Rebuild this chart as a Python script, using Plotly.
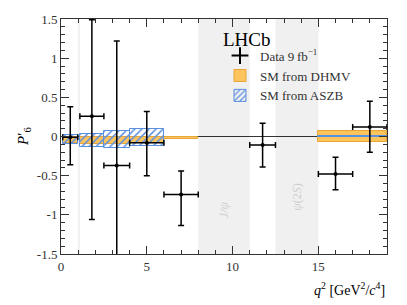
import plotly.graph_objects as go

# Data points
q2_centers = [0.54, 1.8, 3.25, 5.0, 7.0, 11.75, 16.0, 18.0]
q2_halfw = [0.44, 0.7, 0.75, 1.0, 1.0, 0.75, 1.0, 1.0]
p6 = [-0.01, 0.26, -0.37, -0.08, -0.74, -0.11, -0.48, 0.12]
p6_up = [0.38, 1.49, 1.22, 0.32, -0.44, 0.17, -0.265, 0.45]
p6_low = [-0.36, -1.06, -1.65, -0.50, -1.135, -0.39, -0.68, -0.20]

# SM DHMV
dhmv_lo_edge = [0.1, 1.1, 2.5, 4.0, 6.0, 15.0]
dhmv_hi_edge = [0.98, 2.5, 4.0, 6.0, 8.0, 19.0]
dhmv_lo = [-0.08, -0.09, -0.09, -0.08, -0.03, -0.07]
dhmv_hi = [0.0, -0.01, -0.01, 0.0, 0.0, 0.065]

# SM ASZB
aszb_lo_edge = [0.1, 1.1, 2.5, 4.0, 15.0]
aszb_hi_edge = [0.98, 2.5, 4.0, 6.0, 19.0]
aszb_lo = [-0.09, -0.13, -0.15, -0.12, -0.005]
aszb_hi = [0.015, 0.03, 0.065, 0.094, 0.008]

# vetoed regions
veto_lo = [0.98, 8.0, 12.5]
veto_hi = [1.1, 11.0, 15.0]

serif = "Liberation Serif"
fig = go.Figure()

for a, b in zip(veto_lo, veto_hi):
    fig.add_shape(type="rect", xref="x", yref="paper", x0=a, x1=b, y0=0, y1=1,
                  fillcolor="#f0f0f0", line_width=0, layer="below")

fig.add_shape(type="line", xref="paper", yref="y", x0=0, x1=1, y0=0, y1=0,
              line=dict(color="black", width=0.8), layer="below")

fig.add_trace(go.Bar(
    x=[(a + b) / 2 for a, b in zip(dhmv_lo_edge, dhmv_hi_edge)],
    width=[b - a for a, b in zip(dhmv_lo_edge, dhmv_hi_edge)],
    base=dhmv_lo, y=[h - l for h, l in zip(dhmv_hi, dhmv_lo)],
    marker=dict(color="#fdc45c", line=dict(color="#e8a53a", width=1)),
    name="SM from DHMV", legendrank=2, showlegend=True))

fig.add_trace(go.Bar(
    x=[(a + b) / 2 for a, b in zip(aszb_lo_edge, aszb_hi_edge)],
    width=[b - a for a, b in zip(aszb_lo_edge, aszb_hi_edge)],
    base=aszb_lo, y=[h - l for h, l in zip(aszb_hi, aszb_lo)],
    marker=dict(color="rgba(0,0,0,0)",
                pattern=dict(shape="/", fgcolor="#5b8fe0", bgcolor="rgba(0,0,0,0)",
                             size=5, solidity=0.3, fillmode="replace"),
                line=dict(color="#5b8fe0", width=1)),
    name="SM from ASZB", legendrank=3))

fig.add_trace(go.Scatter(
    x=q2_centers, y=p6, mode="markers",
    marker=dict(color="black", size=4),
    error_x=dict(type="data", array=q2_halfw, color="black", thickness=1.5, width=3),
    error_y=dict(type="data", symmetric=False,
                 array=[u - v for u, v in zip(p6_up, p6)],
                 arrayminus=[v - l for v, l in zip(p6, p6_low)],
                 color="black", thickness=1.5, width=3),
    showlegend=False, cliponaxis=True))

fig.add_trace(go.Scatter(
    x=[None], y=[None], mode="markers",
    marker=dict(symbol="cross-thin", size=12, line=dict(color="black", width=2)),
    name="Data 9\u2009fb<sup>\u22121</sup>", legendrank=1))

fig.add_annotation(x=9.5, y=-0.94, xref="x", yref="y", text="<i>J/ψ</i>",
                   textangle=-90, showarrow=False,
                   font=dict(family=serif, size=12, color="#cfcfcf"))
fig.add_annotation(x=13.75, y=-0.77, xref="x", yref="y", text="<i>ψ</i>(2<i>S</i>)",
                   textangle=-90, showarrow=False,
                   font=dict(family=serif, size=12, color="#cfcfcf"))
fig.add_annotation(x=(221 - 61) / 326, y=1 - (36 - 15) / 239, xref="paper", yref="paper",
                   text="LHCb", showarrow=False, xanchor="left", yanchor="middle",
                   font=dict(family=serif, size=19, color="black"))
fig.add_annotation(x=1, y=-0.15, xref="paper", yref="paper",
                   text="<i>q</i><sup>2</sup> [GeV<sup>2</sup>/<i>c</i><sup>4</sup>]",
                   showarrow=False, xanchor="right", yanchor="middle",
                   font=dict(family=serif, size=14, color="black"))
fig.add_annotation(x=-0.115, y=0.5, xref="paper", yref="paper",
                   text="<i>P</i>′<sub>6</sub>", textangle=-90,
                   showarrow=False, xanchor="center", yanchor="middle",
                   font=dict(family=serif, size=15, color="black"))

axis_common = dict(ticks="inside", mirror="ticks", showline=True, linecolor="#333",
                   linewidth=1, showgrid=False, zeroline=False, tickcolor="#333",
                   ticklen=8, tickfont=dict(family=serif, size=13, color="#333"))
fig.update_xaxes(range=[0, 19], tickvals=[0, 5, 10, 15], ticktext=["0", "5", "10", "15"],
                 minor=dict(ticks="inside", dtick=1, ticklen=4, tickcolor="#333"),
                 **axis_common)
fig.update_yaxes(range=[-1.5, 1.5], tickvals=[-1.5, -1, -0.5, 0, 0.5, 1, 1.5],
                 ticktext=["-1.5", "-1", "-0.5", "0", "0.5", "1", "1.5"],
                 minor=dict(ticks="inside", dtick=0.1, ticklen=4, tickcolor="#333"),
                 **axis_common)

fig.update_layout(
    width=407, height=305, barmode="overlay", bargap=0,
    plot_bgcolor="white", paper_bgcolor="white",
    margin=dict(l=61, r=20, t=15, b=51),
    font=dict(family=serif, color="black"),
    legend=dict(x=(220 - 61) / 326, y=1 - (37 - 15) / 239, xanchor="left", yanchor="top",
                bgcolor="rgba(0,0,0,0)", font=dict(family=serif, size=13, color="#333"),
                tracegroupgap=0, itemwidth=30),
)

fig.write_html("out.html", config={"displayModeBar": False},
               post_script="document.body.style.margin='0';document.body.style.overflow='hidden';")
